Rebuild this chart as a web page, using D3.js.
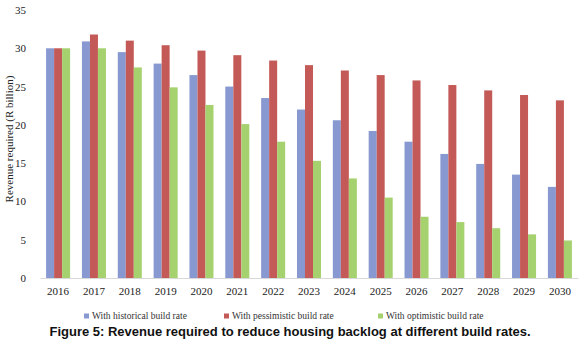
<!DOCTYPE html>
<html lang="en">
<head>
<meta charset="UTF-8">
<title>Revenue required to reduce housing backlog</title>
<script src="https://d3js.org/d3.v7.min.js"></script>
<style>
    body { margin: 0; background: #fff; }
    .tick text { font-family: 'Liberation Serif', 'Times New Roman', serif; font-size: 11px; fill: #222; }
    .legend text { font-family: 'Liberation Serif', 'Times New Roman', serif; font-size: 9.5px; fill: #333; }
    .axis-label { font-family: 'Liberation Serif', 'Times New Roman', serif; font-size: 11px; fill: #222; }
    .caption { font-family: 'Liberation Sans', Arial, sans-serif; font-size: 13px; font-weight: bold; fill: #111; }
</style>
</head>
<body>
<svg id="chart" width="580" height="350"></svg>
<script>
    const years = ["2016","2017","2018","2019","2020","2021","2022","2023","2024","2025","2026","2027","2028","2029","2030"];
    const seriesNames = ["With historical build rate", "With pessimistic build rate", "With optimistic build rate"];
    const historical = [30, 30.9, 29.5, 28.0, 26.5, 25.0, 23.5, 22.0, 20.6, 19.2, 17.8, 16.2, 14.9, 13.5, 11.9];
    const pessimistic = [30, 31.8, 31.0, 30.4, 29.7, 29.1, 28.4, 27.8, 27.1, 26.5, 25.8, 25.2, 24.5, 23.9, 23.2];
    const optimistic = [30, 30, 27.5, 24.9, 22.6, 20.1, 17.8, 15.3, 13.0, 10.5, 8.0, 7.3, 6.5, 5.7, 4.9];
    const yTicks = [0, 5, 10, 15, 20, 25, 30, 35];
    const colors = ["#8799d0", "#c45a57", "#a5d16f"];

    const allSeries = [historical, pessimistic, optimistic];
    const margin = { top: 10, right: 2, bottom: 72, left: 40 };
    const width = 580 - margin.left - margin.right,
          height = 350 - margin.top - margin.bottom;

    const svg = d3.select("#chart");
    const g = svg.append("g").attr("transform", `translate(${margin.left},${margin.top})`);

    const x = d3.scaleBand().domain(years).range([0, width]).paddingInner(0.33).paddingOuter(0.17);
    const xs = d3.scaleBand().domain(d3.range(3)).range([0, x.bandwidth()]);
    const y = d3.scaleLinear().domain([0, 35]).range([height, 0]);

    // y axis, no line
    const yAxis = g.append("g")
        .call(d3.axisLeft(y).tickValues(yTicks).tickSize(0).tickPadding(14));
    yAxis.select(".domain").remove();

    // bars
    years.forEach((yr, i) => {
        allSeries.forEach((s, k) => {
            g.append("rect")
             .attr("x", x(yr) + xs(k))
             .attr("y", y(s[i]))
             .attr("width", xs.bandwidth())
             .attr("height", height - y(s[i]))
             .attr("fill", colors[k]);
        });
    });

    // x axis
    const xAxis = g.append("g")
        .attr("transform", `translate(0,${height})`)
        .call(d3.axisBottom(x).tickSize(0).tickPadding(9));
    xAxis.select(".domain").attr("stroke", "#d9d9d9");

    g.append("text")
     .attr("class", "axis-label")
     .attr("transform", "rotate(-90)")
     .attr("x", -height / 2 + 5)
     .attr("y", -27)
     .attr("text-anchor", "middle")
     .text("Revenue required (R billion)");

    // legend
    const legendX = [84, 224, 378];
    const legend = svg.append("g").attr("class", "legend").attr("transform", "translate(0,319)");
    seriesNames.forEach((name, k) => {
        const lg = legend.append("g").attr("transform", `translate(${legendX[k]},0)`);
        lg.append("rect").attr("x", 0).attr("y", -5.5).attr("width", 5).attr("height", 5).attr("fill", colors[k]);
        lg.append("text").attr("x", 8).attr("y", 0).text(name);
    });

    svg.append("text")
       .attr("class", "caption")
       .attr("x", 290)
       .attr("y", 336)
       .attr("text-anchor", "middle")
       .text("Figure 5: Revenue required to reduce housing backlog at different build rates.");
</script>
</body>
</html>
